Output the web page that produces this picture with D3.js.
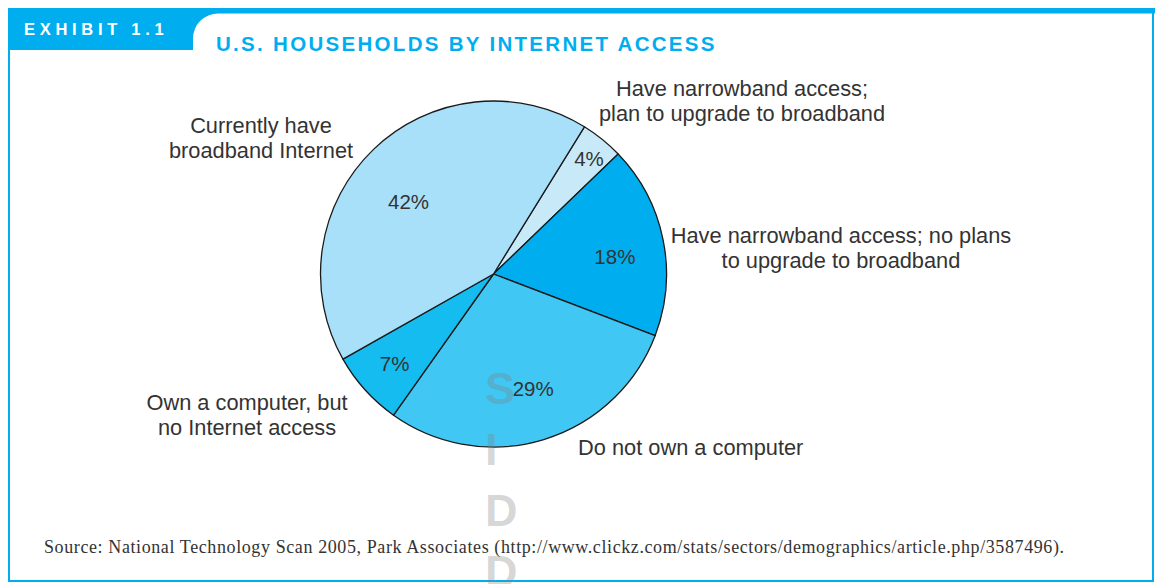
<!DOCTYPE html>
<html>
<head>
<meta charset="utf-8">
<script src="https://cdn.jsdelivr.net/npm/d3@7"></script>
<style>
  html, body { margin: 0; padding: 0; background: #ffffff; }
  svg { display: block; }
</style>
</head>
<body>
<svg id="chart" width="1155" height="584"></svg>
<script>
// ---- data ----
const categories = [
  "Have narrowband access; plan to upgrade to broadband",
  "Have narrowband access; no plans to upgrade to broadband",
  "Do not own a computer",
  "Own a computer, but no Internet access",
  "Currently have broadband Internet"
];
const values = [4, 18, 29, 7, 42];
const categoryLines = [
  ["Have narrowband access;", "plan to upgrade to broadband"],
  ["Have narrowband access; no plans", "to upgrade to broadband"],
  ["Do not own a computer"],
  ["Own a computer, but", "no Internet access"],
  ["Currently have", "broadband Internet"]
];
const exhibitLabel = "EXHIBIT 1.1";
const titleText = "U.S. HOUSEHOLDS BY INTERNET ACCESS";
const sourceText = "Source: National Technology Scan 2005, Park Associates (http://www.clickz.com/stats/sectors/demographics/article.php/3587496).";
const watermarkLetters = ["S", "I", "D", "D"];

// ---- style / layout ----
const sliceColors = ["#C8EAF8", "#00AEEF", "#40C7F3", "#14BCEF", "#A9E0F9"];
const pctRadiusFactor = [0.87, 0.71, 0.69, 0.77, 0.65];
const pctNudge = [[1, 2], [1, 7], [5, 0], [0, 0], [-7, 9]];
const categoryPos = [
  {x: 742, y: 96, anchor: "middle"},
  {x: 841, y: 243, anchor: "middle"},
  {x: 578, y: 455, anchor: "start"},
  {x: 247, y: 410, anchor: "middle"},
  {x: 261, y: 133, anchor: "middle"}
];
const blue = "#00AEEF";
const cx = 493.5, cy = 274, R = 173;
const startDeg = 31.7;

const svg = d3.select("#chart");

// ---- frame ----
svg.append("path")
  .attr("d", "M8,8 H1155 V13.5 H218 A25,25 0 0 0 193,38.5 V50 H8 Z")
  .attr("fill", blue);
svg.append("line").attr("x1", 9).attr("x2", 9).attr("y1", 8).attr("y2", 582)
  .attr("stroke", blue).attr("stroke-width", 2);
svg.append("line").attr("x1", 1153).attr("x2", 1153).attr("y1", 8).attr("y2", 582)
  .attr("stroke", blue).attr("stroke-width", 2);
svg.append("line").attr("x1", 8).attr("x2", 1154).attr("y1", 581).attr("y2", 581)
  .attr("stroke", blue).attr("stroke-width", 2);

svg.append("text")
  .attr("x", 24).attr("y", 34.5)
  .attr("font-family", "Liberation Sans, Arial, sans-serif")
  .attr("font-weight", "bold")
  .attr("font-size", 16.5)
  .attr("letter-spacing", 4.7)
  .attr("fill", "#ffffff")
  .text(exhibitLabel);

svg.append("text")
  .attr("x", 216).attr("y", 51)
  .attr("font-family", "Liberation Sans, Arial, sans-serif")
  .attr("font-weight", "bold")
  .attr("font-size", 20.5)
  .attr("letter-spacing", 2.3)
  .attr("fill", blue)
  .text(titleText);

// ---- pie ----
const pie = d3.pie().sort(null).value(d => d)
  .startAngle(startDeg * Math.PI / 180)
  .endAngle(startDeg * Math.PI / 180 + 2 * Math.PI);
const arcs = pie(values);
const arc = d3.arc().innerRadius(0).outerRadius(R);

const g = svg.append("g").attr("transform", `translate(${cx},${cy})`);
g.selectAll("path.slice")
  .data(arcs)
  .join("path")
  .attr("class", "slice")
  .attr("d", arc)
  .attr("fill", (d, i) => sliceColors[i])
  .attr("stroke", "#1a1a1a")
  .attr("stroke-width", 1.3)
  .attr("stroke-linejoin", "round");

g.selectAll("text.pct")
  .data(arcs)
  .join("text")
  .attr("class", "pct")
  .attr("transform", (d, i) => {
    const a = d3.arc().innerRadius(0).outerRadius(2 * R * pctRadiusFactor[i]);
    const [x, y] = a.centroid(d);
    return `translate(${x + pctNudge[i][0]},${y + pctNudge[i][1]})`;
  })
  .attr("text-anchor", "middle")
  .attr("dy", "0.36em")
  .attr("font-family", "Liberation Sans, Arial, sans-serif")
  .attr("font-size", 20.5)
  .attr("fill", "#333333")
  .text(d => d.data + "%");

// ---- category labels ----
categoryLines.forEach((lines, i) => {
  const p = categoryPos[i];
  const t = svg.append("text")
    .attr("x", p.x).attr("y", p.y)
    .attr("text-anchor", p.anchor)
    .attr("font-family", "Liberation Sans, Arial, sans-serif")
    .attr("font-size", 21.8)
    .attr("fill", "#333333");
  lines.forEach((ln, j) => {
    t.append("tspan").attr("x", p.x).attr("dy", j === 0 ? 0 : 25).text(ln);
  });
});

// ---- watermark ----
svg.selectAll("text.wm")
  .data(watermarkLetters)
  .join("text")
  .attr("class", "wm")
  .attr("x", 485)
  .attr("y", (d, i) => 404 + i * 61)
  .attr("font-family", "Liberation Sans, Arial, sans-serif")
  .attr("font-weight", "bold")
  .attr("font-size", 45)
  .attr("fill", "#808080")
  .attr("fill-opacity", 0.33)
  .text(d => d);

// ---- source ----
svg.append("text")
  .attr("x", 44).attr("y", 553)
  .attr("font-family", "Liberation Serif, Times New Roman, serif")
  .attr("font-size", 18)
  .attr("letter-spacing", 0.6)
  .attr("fill", "#333333")
  .text(sourceText);
</script>
</body>
</html>
